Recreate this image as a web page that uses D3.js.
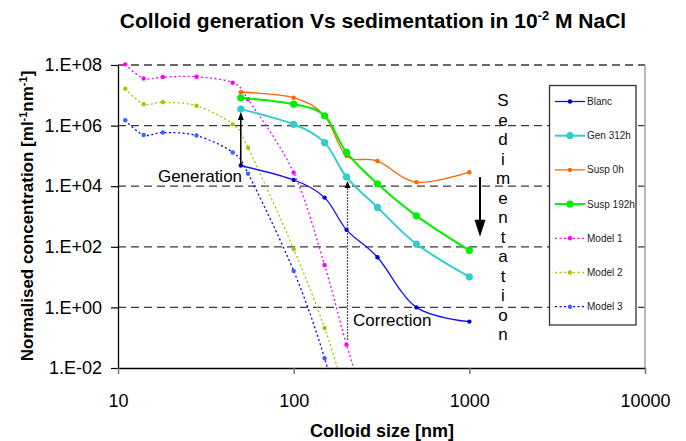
<!DOCTYPE html>
<html><head><meta charset="utf-8">
<script src="https://cdn.jsdelivr.net/npm/d3@7"></script>
<style>
body{margin:0;background:#fff;}
svg{display:block;font-family:"Liberation Sans",Arial,sans-serif;}
</style></head>
<body><svg id="chart" width="686" height="441"></svg>
<script>
// ---- data ----
const modelX = [11, 14, 18, 28, 45, 55, 100, 150, 200, 300];
const model1 = [1.05e8, 3.6e7, 4.0e7, 4.1e7, 2.6e7, 7.4e6, 2.8e4, 25, 0.059, 3e-5];
const model2 = [1.66e7, 5.1e6, 5.9e6, 4.5e6, 1.1e6, 1.86e5, 85, 0.21, 1e-3];
const model3 = [1.5e6, 4.9e5, 5.9e5, 4.7e5, 1.3e5, 2.6e4, 16, 0.021, 3e-5];
const sizeX = [50, 100, 150, 200, 300, 500, 1000];
const blanc = [4.8e4, 1.6e4, 4.2e3, 363, 45, 1.0, 0.34];
const gen312h = [3.5e6, 1.1e6, 2.75e5, 2.0e4, 2.0e3, 123, 10.2];
const susp0h = [1.26e7, 8.3e6, 2.1e6, 1.0e5, 6.8e4, 1.35e4, 2.9e4];
const susp192h = [8.3e6, 5.1e6, 2.1e6, 1.3e5, 1.2e4, 1.05e3, 76];
const seriesNames = ["Blanc", "Gen 312h", "Susp 0h", "Susp 192h", "Model 1", "Model 2", "Model 3"];
const xTicks = [10, 100, 1000, 10000];
const xTickLabels = ["10", "100", "1000", "10000"];
const yTicks = [1e-2, 1, 1e2, 1e4, 1e6, 1e8];
const yTickLabels = ["1.E-02", "1.E+00", "1.E+02", "1.E+04", "1.E+06", "1.E+08"];

// ---- setup ----
const svg = d3.select("#chart");
const L = 118, R = 645, T = 65, B = 368;
const x = d3.scaleLog().domain([10, 10000]).range([L, R]);
const y = d3.scaleLog().domain([1e-2, 1e8]).range([B, T]);

const styles = [
  {name: seriesNames[0], xs: sizeX, ys: blanc, color: "#1010ff", mcolor: "#0000cc", w: 1.3, r: 2.2, dash: null},
  {name: seriesNames[1], xs: sizeX, ys: gen312h, color: "#33cccc", mcolor: "#33cccc", w: 2, r: 3.6, dash: null},
  {name: seriesNames[2], xs: sizeX, ys: susp0h, color: "#ff6600", mcolor: "#ff6600", w: 1.3, r: 2.2, dash: null},
  {name: seriesNames[3], xs: sizeX, ys: susp192h, color: "#00ee00", mcolor: "#00ee00", w: 2, r: 3.6, dash: null},
  {name: seriesNames[4], xs: modelX, ys: model1, color: "#ff00ff", mcolor: "#ff00ff", w: 1.3, r: 2.2, dash: "2,2.5"},
  {name: seriesNames[5], xs: modelX, ys: model2, color: "#99cc00", mcolor: "#99cc00", w: 1.3, r: 2.2, dash: "2,2.5"},
  {name: seriesNames[6], xs: modelX, ys: model3, color: "#0000ff", mcolor: "#3366ff", w: 1.3, r: 2.2, dash: "2,2.5"}
];

svg.append("defs").append("clipPath").attr("id", "clip")
  .append("rect").attr("x", L).attr("y", 0).attr("width", R - L).attr("height", B - 0);

// title
const title = svg.append("text").attr("x", 373).attr("y", 28).attr("text-anchor", "middle")
  .attr("font-size", 21).attr("font-weight", "bold").attr("fill", "#000");
title.append("tspan").text("Colloid generation Vs sedimentation in 10");
title.append("tspan").attr("dy", -8).attr("font-size", 13).text("-2");
title.append("tspan").attr("dy", 8).text(" M NaCl");

// gridlines
svg.append("g").selectAll("line").data(yTicks.filter(d => d > 1e-2)).join("line")
  .attr("x1", L).attr("x2", R).attr("y1", d => y(d)).attr("y2", d => y(d))
  .attr("stroke", "#3a3a3a").attr("stroke-width", 1.3).attr("stroke-dasharray", "8,5");

// right border
svg.append("line").attr("x1", R).attr("x2", R).attr("y1", T).attr("y2", B)
  .attr("stroke", "#a0a0a0").attr("stroke-width", 1.5);

// axes
const yAxis = d3.axisLeft(y).tickValues(yTicks).tickFormat((d, i) => yTickLabels[i]).tickSizeOuter(0).tickSizeInner(7).tickPadding(9);
const gy = svg.append("g").attr("transform", `translate(${L},0)`).call(yAxis);
gy.select(".domain").attr("stroke", "#000").attr("stroke-width", 1.3);
gy.selectAll(".tick line").attr("stroke", "#000").attr("stroke-width", 1.2);
gy.selectAll("text").attr("font-size", 18).attr("fill", "#000").attr("font-family", "Liberation Sans, Arial, sans-serif");

const xAxis = d3.axisBottom(x).tickValues(xTicks).tickFormat((d, i) => xTickLabels[i]).tickSizeOuter(0).tickSizeInner(6).tickPadding(20);
const gx = svg.append("g").attr("transform", `translate(0,${B})`).call(xAxis);
gx.select(".domain").attr("stroke", "#000").attr("stroke-width", 1.5);
gx.selectAll(".tick line").attr("stroke", "#777").attr("stroke-width", 1.5);
gx.selectAll("text").attr("font-size", 18).attr("fill", "#000").attr("font-family", "Liberation Sans, Arial, sans-serif");

// axis titles
svg.append("text").attr("x", 382).attr("y", 437).attr("text-anchor", "middle")
  .attr("font-size", 18).attr("font-weight", "bold").text("Colloid size [nm]");
const yt = svg.append("text").attr("transform", "translate(33,216) rotate(-90)").attr("text-anchor", "middle")
  .attr("font-size", 17).attr("font-weight", "bold");
yt.append("tspan").text("Normalised concentration [ml");
yt.append("tspan").attr("dy", -6).attr("font-size", 11).text("-1");
yt.append("tspan").attr("dy", 6).text("nm");
yt.append("tspan").attr("dy", -6).attr("font-size", 11).text("-1");
yt.append("tspan").attr("dy", 6).text("]");

// series
const plot = svg.append("g").attr("clip-path", "url(#clip)");
const line = d3.line().x(d => x(d[0])).y(d => y(d[1])).curve(d3.curveCardinal.tension(0));
const order = [4, 5, 6, 0, 1, 2, 3];
order.forEach(i => {
  const s = styles[i];
  const pts = s.ys.map((v, k) => [s.xs[k], v]);
  plot.append("path").datum(pts).attr("d", line).attr("fill", "none")
    .attr("stroke", s.color).attr("stroke-width", s.w)
    .attr("stroke-dasharray", s.dash);
  plot.append("g").selectAll("circle").data(pts).join("circle")
    .attr("cx", d => x(d[0])).attr("cy", d => y(d[1])).attr("r", s.r).attr("fill", s.mcolor);
});

// annotations
function arrowHead(g, cx, tipY, w, h, dir) {
  g.append("path").attr("d", `M${cx},${tipY} L${cx - w / 2},${tipY - dir * h} L${cx + w / 2},${tipY - dir * h} Z`).attr("fill", "#000");
}
const ann = svg.append("g");
// Generation
const gX = x(sizeX[0]);
ann.append("line").attr("x1", gX).attr("x2", gX).attr("y1", y(blanc[0])).attr("y2", y(gen312h[0]) + 8)
  .attr("stroke", "#000").attr("stroke-width", 1.5);
arrowHead(ann, gX, y(gen312h[0]) + 3, 6, 8, -1);
ann.append("text").attr("x", 200).attr("y", 182).attr("text-anchor", "middle").attr("font-size", 17).text("Generation");
// Correction
const cX = x(sizeX[3]) + 1;
ann.append("line").attr("x1", cX).attr("x2", cX).attr("y1", y(0.085)).attr("y2", y(gen312h[3]) + 10)
  .attr("stroke", "#222").attr("stroke-width", 1.3).attr("stroke-dasharray", "1.5,1.5");
arrowHead(ann, cX, y(gen312h[3]) + 4, 6, 7, -1);
ann.append("text").attr("x", 353).attr("y", 326).attr("font-size", 17).text("Correction");
// Sedimentation
const sX = x(1150);
ann.append("line").attr("x1", sX).attr("x2", sX).attr("y1", y(2e4)).attr("y2", y(215) - 14)
  .attr("stroke", "#000").attr("stroke-width", 2);
arrowHead(ann, sX, y(215), 11, 17, 1);
const sed = "Sedimentation".split("");
ann.append("g").selectAll("text").data(sed).join("text")
  .attr("x", 503).attr("y", (d, i) => 106 + i * 19.5).attr("text-anchor", "middle")
  .attr("font-size", 17).text(d => d);

// legend
const lg = svg.append("g");
lg.append("rect").attr("x", 549.5).attr("y", 85.5).attr("width", 86.5).attr("height", 239.5)
  .attr("fill", "#fff").attr("stroke", "#333").attr("stroke-width", 1.3);
styles.forEach((s, i) => {
  const yy = 101.5 + i * 34.2;
  lg.append("line").attr("x1", 555).attr("x2", 585).attr("y1", yy).attr("y2", yy)
    .attr("stroke", s.color).attr("stroke-width", s.w).attr("stroke-dasharray", s.dash);
  lg.append("circle").attr("cx", 570).attr("cy", yy).attr("r", s.r).attr("fill", s.mcolor);
  lg.append("text").attr("x", 587).attr("y", yy + 3.5).attr("font-size", 10).attr("fill", "#222").text(s.name);
});
</script></body></html>
